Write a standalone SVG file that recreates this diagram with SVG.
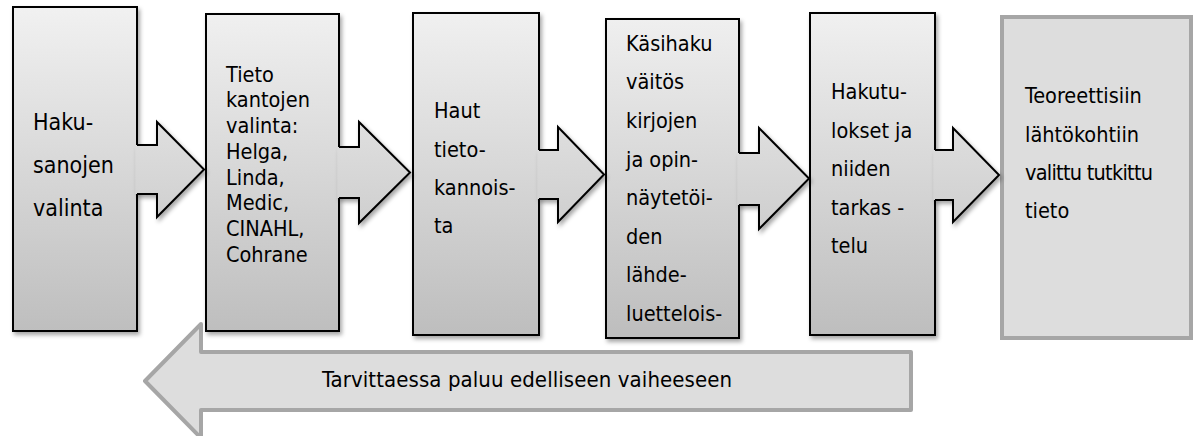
<svg xmlns="http://www.w3.org/2000/svg" width="1194" height="436" viewBox="0 0 1194 436">
<defs>
<linearGradient id="g" gradientUnits="userSpaceOnUse" x1="0" y1="7" x2="0" y2="338">
<stop offset="0" stop-color="#f1f1f1"/>
<stop offset="1" stop-color="#bdbdbd"/>
</linearGradient>
<filter id="sh" x="-10%" y="-10%" width="130%" height="130%">
<feDropShadow dx="2" dy="3" stdDeviation="2" flood-color="#000" flood-opacity="0.35"/>
</filter>
<style>
.box{fill:url(#g);stroke:#000;stroke-width:2;filter:url(#sh)}
.af{fill:url(#g);stroke:none}
.as{fill:none;stroke:#000;stroke-width:2;stroke-linejoin:miter}
.t{font-family:"DejaVu Sans Condensed","DejaVu Sans",sans-serif;font-stretch:condensed;font-size:21.5px;fill:#000}
.gray{fill:#dddddd;stroke:#a6a6a6;stroke-width:4}
</style>
</defs>

<g id="node1">
<rect class="box" x="13" y="7" width="124" height="324"/>
<text class="t" style="font-size:23px"><tspan x="33" y="129.5">Haku-</tspan><tspan x="33" y="172.5">sanojen</tspan><tspan x="33" y="215.5">valinta</tspan></text>
</g>
<g id="node2">
<rect class="box" x="206" y="14" width="133" height="317"/>
<text class="t"><tspan x="226" y="81.7">Tieto</tspan><tspan x="226" y="107.4">kantojen</tspan><tspan x="226" y="133.1">valinta:</tspan><tspan x="226" y="158.8">Helga,</tspan><tspan x="226" y="184.5">Linda,</tspan><tspan x="226" y="210.2">Medic,</tspan><tspan x="226" y="235.9">CINAHL,</tspan><tspan x="226" y="261.6">Cohrane</tspan></text>
</g>
<g id="node3">
<rect class="box" x="413" y="13" width="126" height="322"/>
<text class="t"><tspan x="434" y="118.3">Haut</tspan><tspan x="434" y="156.6">tieto-</tspan><tspan x="434" y="194.9">kannois-</tspan><tspan x="434" y="233.2">ta</tspan></text>
</g>
<g id="node4">
<rect class="box" x="606" y="19" width="133" height="319"/>
<text class="t"><tspan x="626" y="50.7">Käsihaku</tspan><tspan x="626" y="89.3">väitös</tspan><tspan x="626" y="127.9">kirjojen</tspan><tspan x="626" y="166.5">ja opin-</tspan><tspan x="626" y="205.1">näytetöi-</tspan><tspan x="626" y="243.7">den</tspan><tspan x="626" y="282.3">lähde-</tspan><tspan x="626" y="320.9">luettelois-</tspan></text>
</g>
<g id="node5">
<rect class="box" x="810" y="13" width="125" height="322"/>
<text class="t"><tspan x="831" y="99.3">Hakutu-</tspan><tspan x="831" y="137.8">lokset ja</tspan><tspan x="831" y="176.3">niiden</tspan><tspan x="831" y="214.8">tarkas -</tspan><tspan x="831" y="253.3">telu</tspan></text>
</g>
<g id="node6">
<rect class="gray" x="1002" y="17" width="189" height="321"/>
<text class="t"><tspan x="1025" y="103.3">Teoreettisiin</tspan><tspan x="1025" y="141.5">lähtökohtiin</tspan><tspan x="1025" y="179.8" textLength="128" lengthAdjust="spacing">valittu tutkittu</tspan><tspan x="1025" y="218">tieto</tspan></text>
</g>

<g id="connectors">
<g filter="url(#sh)">
<path class="af" d="M135.5,145 H157 V122 L204,169.5 L157,217 V194 H135.5 Z"/>
<path class="as" d="M137,145 H157 V122 L204,169.5 L157,217 V194 H137"/>
</g>
<g filter="url(#sh)">
<path class="af" d="M337.5,147 H359 V122 L410,172.5 L359,223 V198 H337.5 Z"/>
<path class="as" d="M339,147 H359 V122 L410,172.5 L359,223 V198 H339"/>
</g>
<g filter="url(#sh)">
<path class="af" d="M537.5,150 H558 V127 L604,174.5 L558,222 V199 H537.5 Z"/>
<path class="as" d="M539,150 H558 V127 L604,174.5 L558,222 V199 H539"/>
</g>
<g filter="url(#sh)">
<path class="af" d="M737.5,153 H759 V128 L809,178.5 L759,229 V205 H737.5 Z"/>
<path class="as" d="M739,153 H759 V128 L809,178.5 L759,229 V205 H739"/>
</g>
<g filter="url(#sh)">
<path class="af" d="M933.5,150 H953 V128 L999,175 L953,222 V200 H933.5 Z"/>
<path class="as" d="M935,150 H953 V128 L999,175 L953,222 V200 H935"/>
</g>
<g id="back-arrow">
<path class="gray" stroke-linejoin="round" d="M911,352 H201 V324 L145,381 L201,438 V410 H911 Z"/>
<text class="t" style="font-size:22px" x="322" y="387.3" textLength="410" lengthAdjust="spacing">Tarvittaessa paluu edelliseen vaiheeseen</text>
</g>
</g>
</svg>
